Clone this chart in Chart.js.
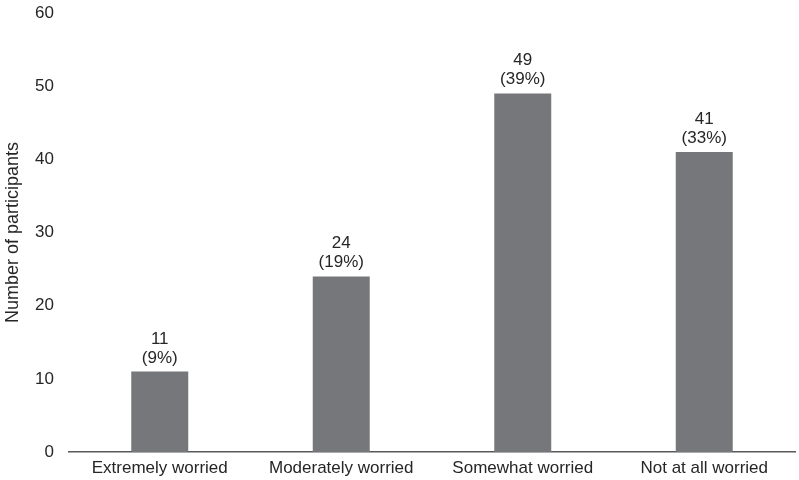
<!DOCTYPE html>
<html>
<head>
<meta charset="utf-8">
<script src="https://cdn.jsdelivr.net/npm/chart.js@4"></script>
<style>
  body { margin: 0; background: #fff; }
  #wrap { width: 799px; height: 480px; }
</style>
</head>
<body>
<div id="wrap"><canvas id="worryChart" width="799" height="480"></canvas></div>
<script>
// chart data
const categories = ["Extremely worried", "Moderately worried", "Somewhat worried", "Not at all worried"];
const counts = [11, 24, 49, 41];
const percents = ["9%", "19%", "39%", "33%"];
const yTicks = [0, 10, 20, 30, 40, 50, 60];

const textColor = "#262626";
const fontFamily = "'Liberation Sans', Arial, sans-serif";

// two-line labels above each bar: count and (percent)
const barLabels = {
  id: "barLabels",
  afterDatasetsDraw(chart) {
    const c = chart.ctx;
    const meta = chart.getDatasetMeta(0);
    c.save();
    c.fillStyle = textColor;
    c.font = "17px " + fontFamily;
    c.textAlign = "center";
    c.textBaseline = "alphabetic";
    meta.data.forEach((bar, i) => {
      c.fillText(String(counts[i]), bar.x, bar.y - 28);
      c.fillText("(" + percents[i] + ")", bar.x, bar.y - 9);
    });
    c.restore();
  }
};

new Chart(document.getElementById("worryChart"), {
  type: "bar",
  data: {
    labels: categories,
    datasets: [{
      data: counts,
      backgroundColor: "#76777b",
      barPercentage: 0.314,
      categoryPercentage: 1
    }]
  },
  options: {
    responsive: false,
    animation: false,
    layout: { padding: { top: 13, right: 4, left: 0, bottom: 0 } },
    plugins: {
      legend: { display: false },
      tooltip: { enabled: false }
    },
    scales: {
      x: {
        grid: { display: false, drawTicks: false },
        border: { display: true, color: "#595959", width: 1.5 },
        ticks: {
          color: textColor,
          font: { family: fontFamily, size: 17 },
          padding: 6,
          maxRotation: 0
        },
        afterFit: s => { s.height = 28; }
      },
      y: {
        min: 0,
        max: 60,
        afterBuildTicks: s => { s.ticks = yTicks.map(v => ({ value: v })); },
        grid: { display: false, drawTicks: false },
        border: { display: false },
        ticks: {
          color: textColor,
          font: { family: fontFamily, size: 17 },
          padding: 15
        },
        title: {
          display: true,
          text: "Number of participants",
          color: textColor,
          font: { family: fontFamily, size: 18 },
          padding: { top: 2, bottom: 4 }
        },
        afterFit: s => {
          s.width = 69;
          s.paddingTop = 0;
          s.paddingBottom = 0;
        }
      }
    }
  },
  plugins: [barLabels]
});
</script>
</body>
</html>
